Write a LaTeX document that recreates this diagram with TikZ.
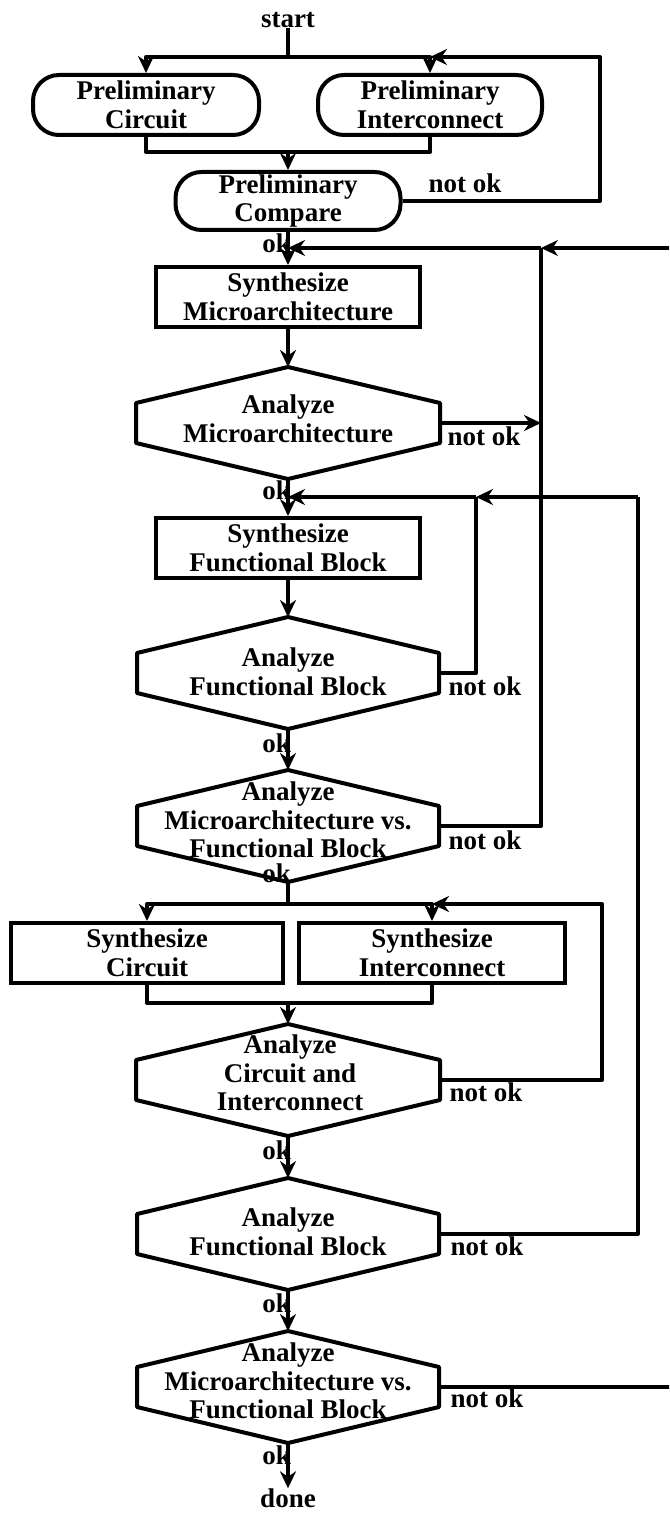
\documentclass[tikz,border=0pt]{standalone}
\usepackage{fontspec}
\setmainfont{Liberation Serif}
\usepackage{tikz}
\usetikzlibrary{arrows.meta}
\tikzset{every node/.append style={font=\bfseries\fontsize{27}{28.5}\selectfont}}

\begin{document}
\begin{tikzpicture}[x=1pt,y=-1pt,>={Stealth[length=17pt,width=16pt]},
  wire/.style={line width=4pt,line join=round},
  box/.style={draw,line width=4pt,align=center,inner sep=0pt,minimum width=264pt,minimum height=60pt},
  oval/.style={box,rounded corners=26pt,minimum width=224pt},
  txt/.style={align=center,inner sep=0pt},
  lab/.style={inner sep=0pt}]
\useasboundingbox (0,0) rectangle (669,1514);
\clip (0,0) rectangle (669,1514);

% hexagonal analysis steps
\foreach \n/\y/\w in {am/423/152,afb/673/151,amf/826/151,aci/1080/152,afb2/1234/151,amf2/1387/151}{
  \coordinate (\n-top) at (288,\y-56);
  \coordinate (\n-bot) at (288,\y+56);
  \coordinate (\n-right) at (288+\w,\y);
  \draw[wire] (\n-top) -- (288+\w,\y-20) -- (\n-right) -- (288+\w,\y+20) -- (\n-bot)
    -- (288-\w,\y+20) -- (288-\w,\y-20) -- cycle;
}

% preliminary stage
\node[lab] (start) at (288,20) {start};
\node[oval,minimum width=226pt] (pcir) at (146,105) {Preliminary\\Circuit};
\node[oval] (pint) at (430,105) {Preliminary\\Interconnect};
\node[oval,minimum height=58pt,minimum width=225pt] (pcmp) at (288,201) {Preliminary\\Compare};
\coordinate (top0) at (288,57);
\coordinate (rail0) at (600,57);
\coordinate (join0) at (288,152);
\draw[wire] (start) -- (top0);
\draw[wire,->] (top0) -| (pcir);
\draw[wire,->] (top0) -| (pint);
\draw[wire] (pcir) |- (join0) -| (pint);
\draw[wire,->] (join0) -- (pcmp);
\draw[wire,->] (pcmp) -- (pcmp -| rail0) -- (rail0) -- (pint |- rail0);
\node[lab] (no0) at (465,183) {not ok};
\node[lab,anchor=east] (ok0) at (291,243) {ok};

% microarchitecture loop
\coordinate (j1) at (288,248);
\coordinate (j1a) at (541,248);
\coordinate (rail3) at (678,248);
\node[box] (smic) at (288,297) {Synthesize\\Microarchitecture};
\node[txt] (am) at (288,419) {Analyze\\Microarchitecture};
\draw[wire,->] (pcmp) -- (smic);
\draw[wire,->] (rail3) -- (j1a);
\draw[wire,->] (j1a) -- (j1);
\draw[wire,->] (smic) -- (am-top);
\draw[wire,->] (am-right) -- (am-right -| j1a);
\node[lab] (no1) at (484,436) {not ok};
\node[lab,anchor=east] (ok1) at (291,490) {ok};

% functional block loop
\coordinate (j2) at (288,497);
\coordinate (j2a) at (476,497);
\coordinate (rail2) at (638,497);
\node[box] (sfb) at (288,548) {Synthesize\\Functional Block};
\node[txt] (afb) at (288,672) {Analyze\\Functional Block};
\node[txt] (amf) at (288,820) {Analyze\\Microarchitecture vs.\\Functional Block};
\draw[wire,->] (am-bot) -- (sfb);
\draw[wire,->] (rail2) -- (j2a);
\draw[wire,->] (j2a) -- (j2);
\draw[wire,->] (sfb) -- (afb-top);
\draw[wire] (afb-right) -| (j2a);
\node[lab] (no2) at (485,686) {not ok};
\draw[wire,->] (afb-bot) -- (amf-top);
\node[lab,anchor=east] (ok2) at (291,743) {ok};
\draw[wire] (amf-right) -| (j1a);
\node[lab] (no3) at (485,840) {not ok};
\node[lab,anchor=east] (ok3) at (291,873) {ok};

% circuit and interconnect
\coordinate (top3) at (288,904);
\coordinate (rail1) at (602,904);
\coordinate (join3) at (288,1003);
\node[box,minimum width=272pt] (scir) at (147,953) {Synthesize\\Circuit};
\node[box,minimum width=266pt] (sint) at (432,953) {Synthesize\\Interconnect};
\node[txt] (aci) at (290,1073) {Analyze\\Circuit and\\Interconnect};
\draw[wire] (amf-bot) -- (top3);
\draw[wire,->] (top3) -| (scir);
\draw[wire,->] (top3) -| (sint);
\draw[wire] (scir) |- (join3) -| (sint);
\draw[wire,->] (join3) -- (aci-top);
\draw[wire,->] (aci-right) -| (rail1) -- (sint |- rail1);
\node[lab] (no4) at (486,1092) {not ok};
\node[lab,anchor=east] (ok4) at (291,1150) {ok};

% final checks
\node[txt] (afb2) at (288,1232) {Analyze\\Functional Block};
\node[txt] (amf2) at (288,1381) {Analyze\\Microarchitecture vs.\\Functional Block};
\node[lab] (done) at (288,1498) {done};
\draw[wire,->] (aci-bot) -- (afb2-top);
\draw[wire] (afb2-right) -| (rail2);
\node[lab] (no5) at (487,1246) {not ok};
\node[lab,anchor=east] (ok5) at (291,1303) {ok};
\draw[wire,->] (afb2-bot) -- (amf2-top);
\draw[wire] (amf2-right) -| (rail3);
\node[lab] (no6) at (487,1398) {not ok};
\node[lab,anchor=east] (ok6) at (291,1455) {ok};
\draw[wire,->] (amf2-bot) -- (done);
\end{tikzpicture}
\end{document}
